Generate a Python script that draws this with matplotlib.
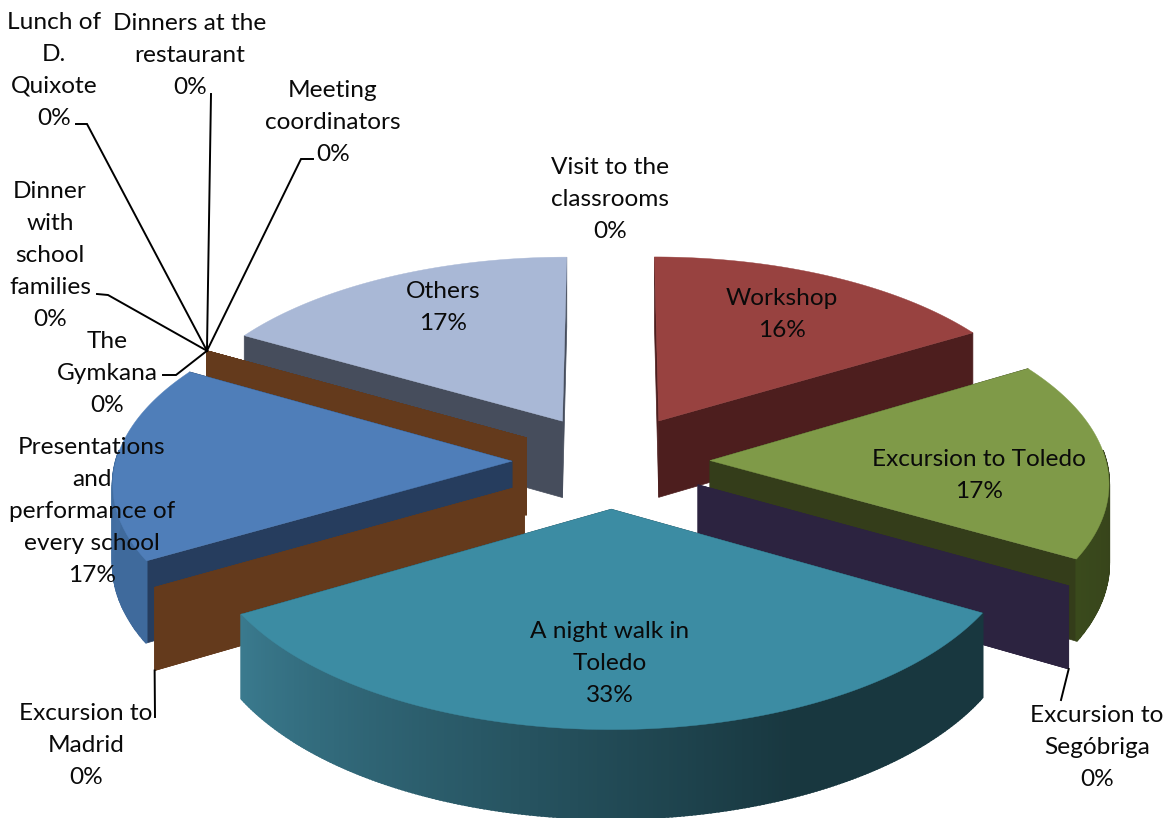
import numpy as np
import matplotlib
matplotlib.use('Agg')
import matplotlib.pyplot as plt
from matplotlib.colors import to_rgb

names = ['Workshop', 'Excursion to Toledo', 'Excursion to\nSegóbriga', 'A night walk in\nToledo',
         'Excursion to\nMadrid', 'Presentations\nand\nperformance of\nevery school', 'The\nGymkana',
         'Dinner\nwith\nschool\nfamilies', 'Lunch of\nD.\nQuixote', 'Dinners at the\nrestaurant',
         'Meeting\ncoordinators', 'Others', 'Visit to the\nclassrooms']
values = [16.4, 16.9, 0, 33.3, 0, 16.7, 0, 0, 0, 0, 0, 16.7, 0]

top_cols = ['#984240', '#7f9a48', '#2c2340', '#3c8ca3', '#643a1c', '#4f7eb9', '#643a1c',
            '#643a1c', '#643a1c', '#643a1c', '#643a1c', '#a9b8d6', '#2c2340']
cut_cols = ['#4d1e1e', '#343d1a', '#2c2340', '#1f4a57', '#643a1c', '#263d5e', '#643a1c',
            '#643a1c', '#643a1c', '#643a1c', '#643a1c', '#464d5c', '#2c2340']
rim_cols = [('#4d1e1e', '#4d1e1e'), ('#343d1a', '#3a4a1c'), None, ('#18373f', '#3a7a8e'), None,
            ('#3f6a9c', '#4a78b0'), None, None, None, None, None, ('#464d5c', '#464d5c'), None]

# text x centre, first baseline
label_pos = [(782, 305), (979, 466), (1097, 722), (610, 638), (86, 720), (92, 454), (107, 348),
             (50, 198), (54, 29), (190, 30), (333, 97), (443, 298), (610, 174)]
line_step = 32

# back to front
draw_order = [12, 11, 0, 6, 7, 8, 9, 10, 5, 4, 1, 2, 3]

cx, cy = 611, 461
rx, ry = 396, 188
persp = 0.1
thick = 78
explode = 0.25


def project(x, y, z=0.0):
    w = 1 + persp * y
    return cx + rx * x / w, cy - ry * y / w + thick * z / w


def edge(off, theta, z=0.0):
    return project(off[0] + np.sin(theta), off[1] + np.cos(theta), z)


fig = plt.figure(figsize=(11.68, 8.18), dpi=100)
ax = fig.add_axes([0, 0, 1, 1])
ax.set_xlim(0, 1168)
ax.set_ylim(818, 0)
ax.axis('off')

stops = np.cumsum([0] + values) / sum(values) * 2 * np.pi
outer_top = {}
outer_low = {}

for i in draw_order:
    t1, t2 = stops[i], stops[i + 1]
    mid = (t1 + t2) / 2
    off = (explode * np.sin(mid), explode * np.cos(mid))
    tip_a = project(off[0], off[1])
    tip_b = project(off[0], off[1], 1)
    outer_top[i] = edge(off, t1)
    outer_low[i] = edge(off, t1, 1)

    # the last slice is seen edge-on, nothing shows of it
    if i == 12:
        continue

    # cut faces, the one further back first
    for t in sorted([t1, t2], key=lambda a: -np.cos(a)):
        a = edge(off, t)
        b = edge(off, t, 1)
        ax.fill([tip_a[0], a[0], b[0], tip_b[0]], [tip_a[1], a[1], b[1], tip_b[1]],
                color=cut_cols[i], lw=0.5, zorder=2)
    if values[i] == 0:
        continue

    # rim, split in strips for the shading
    steps = max(int(np.degrees(t2 - t1)) * 2, 2)
    th = np.linspace(t1, t2, steps + 1)
    c_a, c_b = np.array(to_rgb(rim_cols[i][0])), np.array(to_rgb(rim_cols[i][1]))
    for k in range(steps):
        if np.cos(th[k]) > 0.05 and np.cos(th[k + 1]) > 0.05:
            continue
        f = max(0.0, (k / steps - 0.3) / 0.7)
        p0, p1 = edge(off, th[k]), edge(off, th[k + 1])
        q0, q1 = edge(off, th[k], 1), edge(off, th[k + 1], 1)
        ax.fill([p0[0], p1[0], q1[0], q0[0]], [p0[1], p1[1], q1[1], q0[1]],
                color=c_a + (c_b - c_a) * f, lw=1.5, zorder=2)

    # top face
    xs = [tip_a[0]] + [edge(off, t)[0] for t in th]
    ys = [tip_a[1]] + [edge(off, t)[1] for t in th]
    ax.fill(xs, ys, color=top_cols[i], lw=0.3, zorder=2)

# leader lines
hub = outer_top[6]
leaders = [[outer_low[4], (155, 717)], [outer_low[2], (1061, 700)],
           [hub, (176, 375), (163, 375)], [hub, (108, 295), (97, 294)],
           [hub, (87, 124), (76, 124)], [hub, (211, 94)], [hub, (301, 159), (313, 159)]]
for pts in leaders:
    ax.plot([p[0] for p in pts], [p[1] for p in pts], color='black', lw=1.4, zorder=3,
            solid_joinstyle='miter')

for i, name in enumerate(names):
    x, y = label_pos[i]
    lines = name.split('\n') + ['%.0f%%' % values[i]]
    for n, line in enumerate(lines):
        ax.text(x, y + n * line_step, line, ha='center', va='baseline', family='Lato',
                fontsize=17.6, color='#0a0a0a', zorder=4)

fig.savefig('out.png', dpi=100)
